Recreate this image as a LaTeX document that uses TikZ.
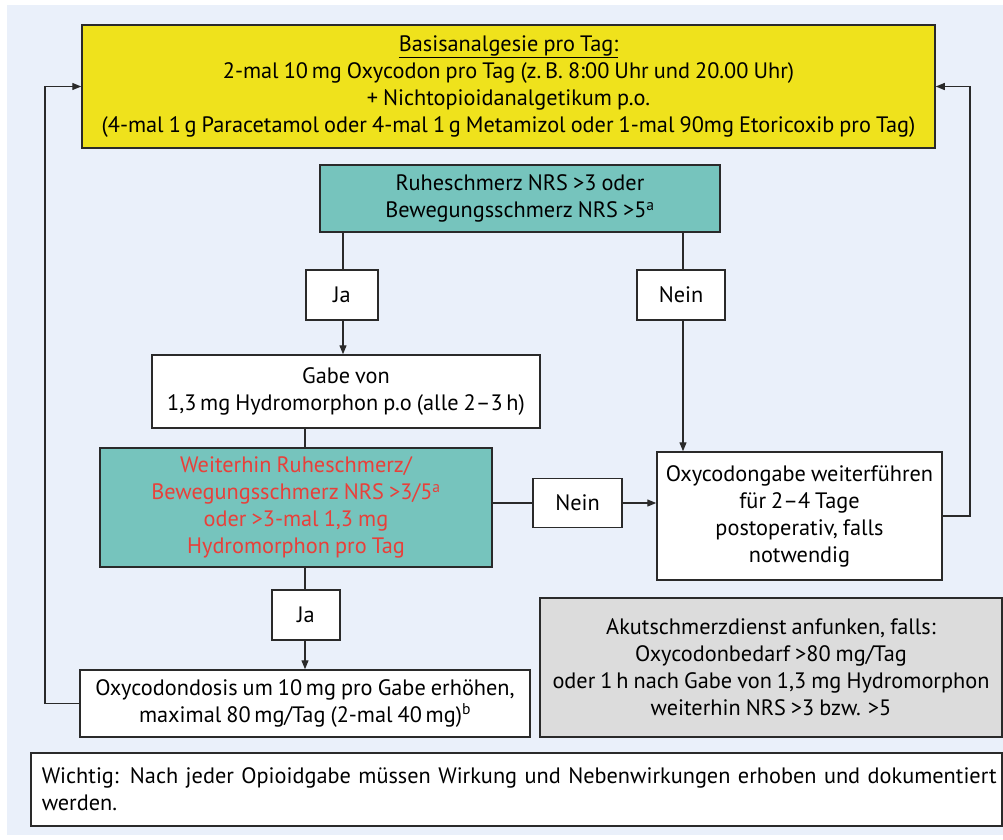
\documentclass[tikz,border=0pt]{standalone}
\usepackage{fontspec}
\setmainfont{PT Sans}[WordSpace={0.85,0.5,0.3}]
\usetikzlibrary{arrows.meta,calc}
\definecolor{bgblue}{HTML}{EAF0FA}
\definecolor{yel}{HTML}{EFE21C}
\definecolor{teal}{HTML}{76C4BD}
\definecolor{greybox}{HTML}{DCDCDC}
\definecolor{redtxt}{HTML}{E8403A}
\definecolor{edge}{HTML}{2A2A2A}
\tikzset{
  box/.style={draw=edge, line width=1.5pt, fill=white, inner sep=0pt, align=center,
    font=\fontsize{22.3}{27}\selectfont},
  conn/.style={draw=edge, line width=1.3pt},
  arr/.style={conn, -{Triangle[length=9pt,width=7pt]}},
}
\begin{document}
\begin{tikzpicture}[x=1pt,y=-1pt]
\useasboundingbox (0,0) rectangle (1003,839);
\fill[white] (0,0) rectangle (1003,839);
\fill[bgblue] (7,5) rectangle (1003,835);

\node[box, fill=yel, minimum width=853pt, minimum height=123pt] (yellow) at (508.5,86.5)
  {\underline{Basisanalgesie pro Tag:}\\
   2-mal 10\,mg Oxycodon pro Tag (z.\,B. 8:00 Uhr und 20.00 Uhr)\\
   + Nichtopioidanalgetikum p.o.\\
   (4-mal 1\,g Paracetamol oder 4-mal 1\,g Metamizol oder 1-mal 90mg Etoricoxib pro Tag)};

\node[box, fill=teal, minimum width=400pt, minimum height=67pt] (teal1) at (520,198.5)
  {Ruheschmerz NRS >3 oder\\Bewegungsschmerz NRS >5\textsuperscript{a}};

\node[box, minimum width=72pt, minimum height=50pt] (ja1) at (342,295) {Ja};
\node[box, minimum width=88pt, minimum height=50pt] (nein1) at (681,295) {Nein};

\node[box, minimum width=388pt, minimum height=73pt] (gabe) at (346,391.5)
  {Gabe von\\1,3\,mg Hydromorphon p.o (alle 2--3\,h)};

\node[box, fill=teal, text=redtxt, minimum width=392pt, minimum height=119pt] (teal2) at (296,507.5)
  {Weiterhin Ruheschmerz/\\Bewegungsschmerz NRS >3/5\textsuperscript{a}\\oder >3-mal 1,3 mg\\Hydromorphon pro Tag};

\node[box, minimum width=89pt, minimum height=49pt] (nein2) at (577.5,503) {Nein};

\node[box, minimum width=285pt, minimum height=128pt] (oxy) at (799.5,516)
  {Oxycodongabe weiterführen\\für 2--4 Tage\\postoperativ, falls\\notwendig};

\node[box, minimum width=68pt, minimum height=50pt] (ja2) at (306,615) {Ja};

\node[box, minimum width=450pt, minimum height=67pt] (dosis) at (305,703.5)
  {Oxycodondosis um 10\,mg pro Gabe erhöhen,\\maximal 80\,mg/Tag (2-mal 40\,mg)\textsuperscript{b}};

\node[box, fill=greybox, minimum width=462pt, minimum height=139pt] (gray) at (771,667.5)
  {Akutschmerzdienst anfunken, falls:\\Oxycodonbedarf >80 mg/Tag\\oder 1\,h nach Gabe von 1,3 mg Hydromorphon\\weiterhin NRS >3 bzw. >5};

\node[box, align=left, anchor=north west, minimum width=971pt, minimum height=73pt,
      text width=971pt] (wichtig) at (30,752)
  {\hspace*{11pt}Wichtig: Nach jeder Opioidgabe müssen Wirkung und Nebenwirkungen erhoben und dokumentiert\\\hspace*{11pt}werden.};

% connectors
\coordinate (jx) at (343,0);
\coordinate (nx) at (683,0);
\coordinate (gx) at (305,0);
\coordinate (rx) at (970,0);
\coordinate (lx) at (45,0);

\draw[conn] (jx |- teal1.south) -- (jx |- ja1.north);
\draw[arr] (jx |- ja1.south) -- (jx |- gabe.north);
\draw[conn] (nx |- teal1.south) -- (nx |- nein1.north);
\draw[arr] (nx |- nein1.south) -- (nx |- oxy.north);
\draw[conn] (gx |- gabe.south) -- (gx |- teal2.north);
\draw[conn] (teal2.east |- nein2.west) -- (nein2.west);
\draw[arr] (nein2.east) -- (oxy.west |- nein2.east);
\draw[conn] (gx |- teal2.south) -- (gx |- ja2.north);
\draw[arr] (gx |- ja2.south) -- (gx |- dosis.north);
\draw[arr] (oxy.east) -- (rx |- oxy.east) -- (rx |- yellow.east) -- (yellow.east);
\draw[arr] (dosis.west) -- (lx |- dosis.west) -- (lx |- yellow.west) -- (yellow.west);
\end{tikzpicture}
\end{document}
